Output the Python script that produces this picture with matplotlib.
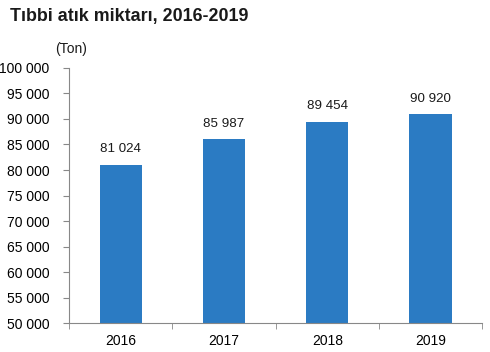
import matplotlib
matplotlib.use('Agg')
import matplotlib.pyplot as plt

plt.rcParams['font.family'] = ['Liberation Sans', 'DejaVu Sans']

# Veriler
years = ['2016', '2017', '2018', '2019']
waste = [81024, 85987, 89454, 90920]
yticks = list(range(50000, 100001, 5000))

fig = plt.figure(figsize=(4.9, 3.52), dpi=100)
ax = fig.add_axes([0.141, 0.082, 0.843, 0.725])

x = range(len(years))
ax.bar(x, waste, width=0.41, color='#2B7BC3', zorder=2)

for i, v in enumerate(waste):
    ax.annotate(f'{v:,}'.replace(',', ' '), (i, v), xytext=(0, 7),
                textcoords='offset points', ha='center', va='bottom',
                fontsize=9.6, color='#1a1a1a')

ax.set_ylim(50000, 100000)
ax.set_yticks(yticks)
ax.set_yticklabels([f'{t:,}'.replace(',', ' ') for t in yticks], fontsize=10)
ax.set_xlim(-0.5, len(years) - 0.5)
ax.set_xticks(list(x))
ax.set_xticklabels(years, fontsize=10)
ax.tick_params(axis='x', length=0, pad=8)
ax.set_xticks([i - 0.5 for i in range(len(years) + 1)], minor=True)
ax.tick_params(axis='x', which='minor', length=4, color='#888888')
ax.tick_params(axis='y', length=4, color='#888888', pad=10)

for s in ['top', 'right']:
    ax.spines[s].set_visible(False)
for s in ['left', 'bottom']:
    ax.spines[s].set_color('#888888')
    ax.spines[s].set_linewidth(0.8)

fig.text(0.02, 0.94, 'Tıbbi atık miktarı, 2016-2019', fontsize=12.9,
         fontweight='bold', color='#1a1a1a')
fig.text(0.113, 0.85, '(Ton)', fontsize=10, color='#1a1a1a')

fig.savefig('out.png', dpi=100)
